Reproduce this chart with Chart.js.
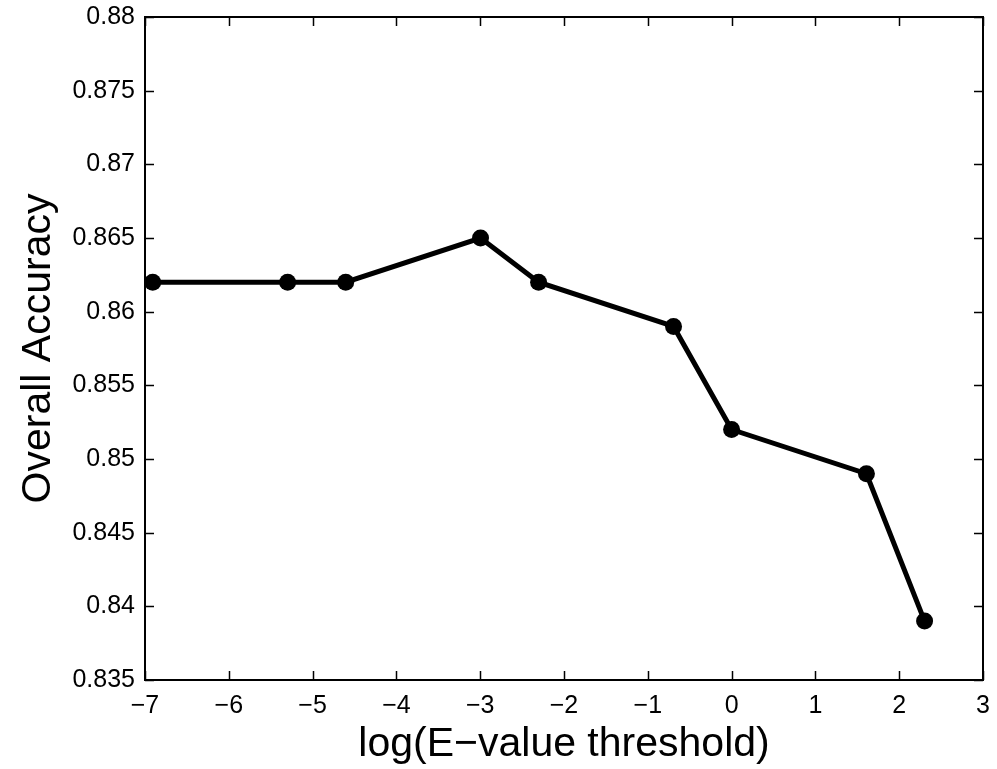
<!DOCTYPE html>
<html>
<head>
<meta charset="utf-8">
<script src="https://cdn.jsdelivr.net/npm/chart.js@4.4.0/dist/chart.umd.min.js"></script>
<style>
  html, body { margin: 0; padding: 0; background: #fff; }
  #wrap { width: 997px; height: 769px; }
</style>
</head>
<body>
<div id="wrap"><canvas id="myChart" width="997" height="769"></canvas></div>
<script>
// valores (x = log natural del umbral E-value)
const logEvalue = [-6.908, -5.298, -4.605, -2.996, -2.303, -0.693, 0, 1.609, 2.303];
const accuracy = [0.862, 0.862, 0.862, 0.865, 0.862, 0.859, 0.852, 0.849, 0.839];

const xTicks = [-7, -6, -5, -4, -3, -2, -1, 0, 1, 2, 3];
const xTickLabels = ['\u22127', '\u22126', '\u22125', '\u22124', '\u22123', '\u22122', '\u22121', '0', '1', '2', '3'];
const yTicks = [0.835, 0.84, 0.845, 0.85, 0.855, 0.86, 0.865, 0.87, 0.875, 0.88];
const yTickLabels = ['0.835', '0.84', '0.845', '0.85', '0.855', '0.86', '0.865', '0.87', '0.875', '0.88'];

const font = 'Liberation Sans, Arial, Helvetica, sans-serif';

// marco y ticks hacia adentro, estilo matlab
const boxTicks = {
  id: 'boxTicks',
  afterDatasetsDraw(chart) {
    const { ctx, chartArea: a, scales } = chart;
    const len = 9;
    ctx.save();
    ctx.strokeStyle = '#000';
    ctx.lineWidth = 1.5;
    ctx.beginPath();
    xTicks.forEach((v) => {
      const px = Math.round(scales.x.getPixelForValue(v)) + 0.5;
      ctx.moveTo(px, a.bottom); ctx.lineTo(px, a.bottom - len);
      ctx.moveTo(px, a.top); ctx.lineTo(px, a.top + len);
    });
    yTicks.forEach((v) => {
      const py = Math.round(scales.y.getPixelForValue(v)) + 0.5;
      ctx.moveTo(a.left, py); ctx.lineTo(a.left + len, py);
      ctx.moveTo(a.right, py); ctx.lineTo(a.right - len, py);
    });
    ctx.stroke();
    ctx.lineWidth = 2;
    ctx.strokeRect(a.left, a.top, a.right - a.left, a.bottom - a.top);
    ctx.restore();
  }
};

new Chart(document.getElementById('myChart'), {
  type: 'line',
  data: {
    datasets: [{
      data: logEvalue.map((x, i) => ({ x: x, y: accuracy[i] })),
      borderColor: '#000',
      backgroundColor: '#000',
      borderWidth: 5,
      pointRadius: 8.5,
      pointBackgroundColor: '#000',
      pointBorderWidth: 0,
      tension: 0
    }]
  },
  options: {
    responsive: false,
    animation: false,
    events: [],
    layout: { padding: { left: 0, top: 17, right: 14, bottom: 0 } },
    plugins: { legend: { display: false }, tooltip: { enabled: false } },
    scales: {
      x: {
        type: 'linear',
        min: -7,
        max: 3,
        afterBuildTicks: (s) => { s.ticks = xTicks.map((v) => ({ value: v })); },
        afterFit: (s) => { s.height = 89; s.paddingLeft = 0; s.paddingRight = 0; },
        grid: { display: false, drawTicks: false },
        border: { display: false },
        ticks: {
          color: '#000',
          font: { family: font, size: 25 },
          padding: 11,
          maxRotation: 0,
          autoSkip: false,
          callback: (v) => xTickLabels[xTicks.indexOf(v)]
        },
        title: {
          display: true,
          text: 'log(E\u2212value threshold)',
          color: '#000',
          font: { family: font, size: 41 },
          padding: { top: 0, bottom: 0 }
        }
      },
      y: {
        min: 0.835,
        max: 0.88,
        afterBuildTicks: (s) => { s.ticks = yTicks.map((v) => ({ value: v })); },
        afterFit: (s) => { s.width = 145; s.paddingTop = 0; s.paddingBottom = 0; },
        grid: { display: false, drawTicks: false },
        border: { display: false },
        ticks: {
          color: '#000',
          font: { family: font, size: 25 },
          padding: 10,
          autoSkip: false,
          callback: (v) => yTickLabels[yTicks.findIndex((t) => Math.abs(t - v) < 1e-9)]
        },
        title: {
          display: true,
          text: 'Overall Accuracy',
          color: '#000',
          font: { family: font, size: 41 },
          padding: { top: 14, bottom: 0 }
        }
      }
    }
  },
  plugins: [boxTicks]
});
</script>
</body>
</html>
